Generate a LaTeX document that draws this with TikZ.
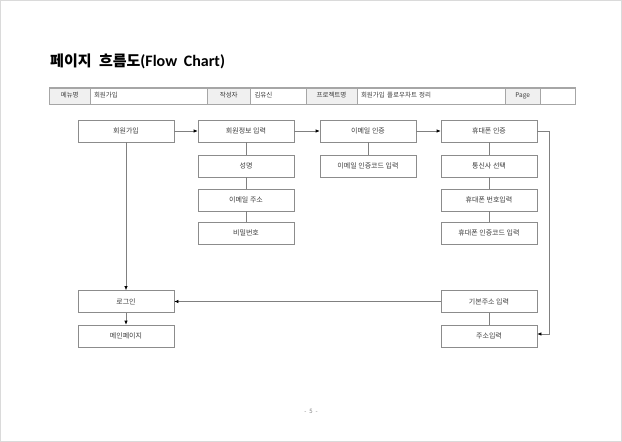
\documentclass[tikz,border=0pt]{standalone}
\usepackage{fontspec}
\setmainfont{Noto Sans CJK KR}
\newfontfamily\latinb{Carlito}
\usetikzlibrary{arrows.meta}
\definecolor{boxgray}{HTML}{8C8C8C}
\definecolor{linegray}{HTML}{808080}
\definecolor{txt}{HTML}{3A3A3A}
\definecolor{tabline}{HTML}{A6A6A6}
\definecolor{labfill}{HTML}{F0F0F0}
\definecolor{framegray}{HTML}{DADADA}
\begin{document}
\begin{tikzpicture}[x=1pt,y=-1pt,
  box/.style={draw=boxgray, line width=0.6pt, minimum width=96pt, minimum height=22pt,
    inner sep=0pt, font=\fontsize{7}{8}\selectfont, text=txt},
  link/.style={draw=linegray, line width=0.6pt},
  arr/.style={link, -{Latex[length=4pt,width=3.4pt,color=black]}},
  cellbase/.style={draw=tabline, line width=0.5pt, minimum height=16pt, inner sep=0pt,
    text height=5pt, text depth=1.5pt,
    font=\fontsize{6.5}{7}\selectfont, text=txt},
  lab/.style={cellbase, fill=labfill},
  val/.style={cellbase, inner xsep=4pt, align=left}]
\useasboundingbox (0,0) rectangle (622,442);
\draw[framegray, line width=1pt] (0.5,0.5) rectangle (621.5,441.5);

% title
\node[anchor=west, inner sep=0pt, font=\fontsize{15}{16}\selectfont\bfseries, text=black] (title) at (50,61)
  {페이지\hspace{4pt} 흐름도{\latinb\fontsize{16}{16}\selectfont\bfseries(Flow\hspace{3pt} Chart)}};

% header table
\node[lab, minimum width=40.5pt] (h1) at (69.75,96) {메뉴명};
\node[val, text width=109pt] (h2) at (148.5,96) {회원가입};
\node[lab, minimum width=43.5pt] (h3) at (228.75,96) {작성자};
\node[val, text width=47.5pt] (h4) at (278.25,96) {김유신};
\node[lab, minimum width=51pt] (h5) at (331.5,96) {프로젝트명};
\node[val, text width=140pt] (h6) at (431,96) {회원가입 플로우차트 정리};
\node[lab, minimum width=35.5pt] (h7) at (522.75,96) {Page};
\node[cellbase, minimum width=34.5pt] (h8) at (557.75,96) {};
\draw[tabline, line width=1pt] (h1.north west) rectangle (h8.south east);

% boxes
\node[box] (signup) at (126,131) {회원가입};
\node[box] (info) at (246,131) {회원정보 입력};
\node[box] (name) at (246,166) {성명};
\node[box] (mail) at (246,200) {이메일 주소};
\node[box] (pw) at (246,233) {비밀번호};
\node[box] (mauth) at (368,131) {이메일 인증};
\node[box] (mcode) at (368,166) {이메일 인증코드 입력};
\node[box] (pauth) at (489,131) {휴대폰 인증};
\node[box] (carrier) at (489,166) {통신사 선택};
\node[box] (pnum) at (489,200) {휴대폰 번호입력};
\node[box] (pcode) at (489,233) {휴대폰 인증코드 입력};
\node[box] (login) at (126,301.5) {로그인};
\node[box] (main) at (126,336) {메인페이지};
\node[box] (base) at (489,301.5) {기본주소 입력};
\node[box] (addr) at (489,336) {주소입력};

% connectors
\draw[arr] (signup.east) -- (info.west);
\draw[arr] (info.east) -- (mauth.west);
\draw[arr] (mauth.east) -- (pauth.west);
\draw[link] (info) -- (name);
\draw[link] (name) -- (mail);
\draw[link] (mail) -- (pw);
\draw[link] (mauth) -- (mcode);
\draw[link] (pauth) -- (carrier);
\draw[link] (carrier) -- (pnum);
\draw[link] (pnum) -- (pcode);
\draw[arr] (signup.south) -- (login.north);
\draw[arr] (login.south) -- (main.north);
\draw[arr] (base.west) -- (login.east);
\draw[link] (base) -- (addr);
\coordinate (rc) at (549,131);
\draw[arr] (pauth.east) -- (rc) |- ([yshift=2pt]addr.east);

% page number
\node[font=\fontsize{6}{7}\selectfont, text=gray] (pg) at (311,411) {-\hspace{3pt}5\hspace{3pt}-};
\end{tikzpicture}
\end{document}
